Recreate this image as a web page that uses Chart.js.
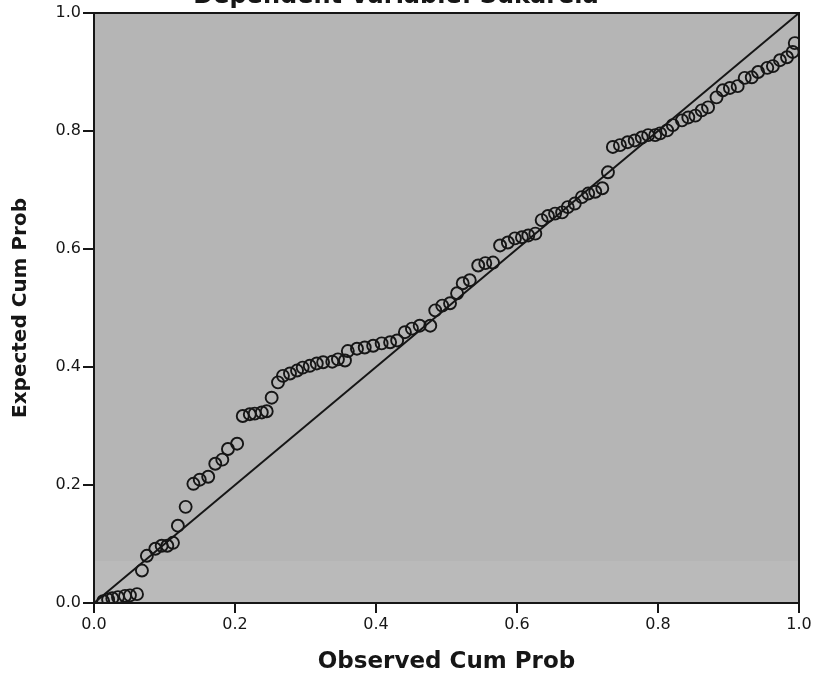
<!DOCTYPE html>
<html>
<head>
<meta charset="utf-8">
<script src="https://cdn.jsdelivr.net/npm/chart.js@4.4.1/dist/chart.umd.min.js"></script>
<style>
  html, body { margin: 0; padding: 0; background: #fff; overflow: hidden; }
  #wrap { width: 817px; height: 678px; }
</style>
</head>
<body>
<div id="wrap"><canvas id="ppChart" width="817" height="678"></canvas></div>
<script>
// Normal P-P plot of regression standardized residual
const chartTitle = 'Dependent Variable: Sukarela';
const xTitle = 'Observed Cum Prob';
const yTitle = 'Expected Cum Prob';
const tickLabels = ['0.0', '0.2', '0.4', '0.6', '0.8', '1.0'];

const observed = [
  0.013, 0.020, 0.026, 0.034, 0.044, 0.051, 0.061, 0.068, 0.075, 0.087,
  0.096, 0.104, 0.112, 0.119, 0.130, 0.141, 0.150, 0.162, 0.172, 0.182,
  0.190, 0.203, 0.211, 0.221, 0.228, 0.238, 0.245, 0.252, 0.261, 0.268,
  0.278, 0.288, 0.296, 0.306, 0.316, 0.325, 0.338, 0.346, 0.356, 0.360,
  0.373, 0.384, 0.396, 0.408, 0.420, 0.430, 0.441, 0.451, 0.462, 0.477,
  0.484, 0.494, 0.505, 0.515, 0.523, 0.533, 0.545, 0.555, 0.566, 0.576,
  0.587, 0.597, 0.607, 0.616, 0.626, 0.635, 0.644, 0.654, 0.664, 0.672,
  0.682, 0.692, 0.701, 0.711, 0.721, 0.729, 0.736, 0.746, 0.757, 0.767,
  0.777, 0.786, 0.796, 0.803, 0.813, 0.821, 0.834, 0.843, 0.853, 0.862,
  0.871, 0.883, 0.892, 0.902, 0.913, 0.923, 0.933, 0.942, 0.955, 0.963,
  0.973, 0.983, 0.991, 0.994
];
const expected = [
  0.003, 0.006, 0.008, 0.010, 0.012, 0.013, 0.015, 0.055, 0.080, 0.092,
  0.097, 0.097, 0.102, 0.131, 0.163, 0.202, 0.209, 0.214, 0.236, 0.243,
  0.261, 0.270, 0.317, 0.320, 0.321, 0.323, 0.325, 0.348, 0.374, 0.385,
  0.389, 0.394, 0.399, 0.402, 0.406, 0.408, 0.409, 0.413, 0.411, 0.427,
  0.431, 0.433, 0.436, 0.440, 0.442, 0.445, 0.459, 0.465, 0.470, 0.470,
  0.496, 0.504, 0.508, 0.525, 0.542, 0.547, 0.572, 0.576, 0.577, 0.606,
  0.611, 0.618, 0.620, 0.623, 0.626, 0.649, 0.656, 0.660, 0.662, 0.671,
  0.677, 0.688, 0.694, 0.697, 0.703, 0.730, 0.773, 0.776, 0.781, 0.784,
  0.789, 0.793, 0.793, 0.796, 0.801, 0.810, 0.818, 0.823, 0.826, 0.835,
  0.840, 0.857, 0.869, 0.873, 0.876, 0.890, 0.891, 0.900, 0.907, 0.910,
  0.920, 0.925, 0.934, 0.949
];
// reference diagonal
const lineEnds = [0, 1];

const ink = '#161616';

// grey plot area like the SPSS output
const plotBackground = {
  id: 'plotBackground',
  beforeDraw(chart) {
    const {ctx, chartArea: a} = chart;
    ctx.save();
    ctx.fillStyle = '#b5b5b5';
    ctx.fillRect(a.left, a.top, a.right - a.left, a.bottom - a.top);
    ctx.fillStyle = 'rgba(255,255,255,0.08)';
    ctx.fillRect(a.left, a.bottom - 42, a.right - a.left, 42);
    ctx.restore();
  }
};

// box round the plot and the title that the scan cut off at the top
const frameAndTitle = {
  id: 'frameAndTitle',
  afterDraw(chart) {
    const {ctx, chartArea: a} = chart;
    ctx.save();
    ctx.strokeStyle = ink;
    ctx.lineWidth = 2;
    ctx.strokeRect(a.left, a.top, a.right - a.left, a.bottom - a.top);
    ctx.fillStyle = ink;
    ctx.font = 'bold 24px "DejaVu Sans"';
    ctx.textAlign = 'center';
    ctx.textBaseline = 'alphabetic';
    ctx.fillText(chartTitle, 396, 3);
    ctx.restore();
  }
};

const ctx = document.getElementById('ppChart').getContext('2d');

new Chart(ctx, {
  type: 'scatter',
  data: {
    datasets: [
      {
        type: 'line',
        data: lineEnds.map(v => ({x: v, y: v})),
        borderColor: ink,
        borderWidth: 2,
        pointRadius: 0,
        fill: false
      },
      {
        data: observed.map((x, i) => ({x: x, y: expected[i]})),
        pointStyle: 'circle',
        pointRadius: 6,
        pointBorderWidth: 1.9,
        borderColor: ink,
        backgroundColor: 'rgba(0,0,0,0)'
      }
    ]
  },
  options: {
    responsive: false,
    animation: false,
    devicePixelRatio: 1,
    layout: { padding: { left: 0, right: 18, top: 13, bottom: 0 } },
    plugins: {
      legend: { display: false },
      tooltip: { enabled: false }
    },
    scales: {
      x: {
        type: 'linear',
        min: 0,
        max: 1,
        afterFit: s => { s.height = 75; },
        ticks: {
          stepSize: 0.2,
          padding: 2,
          color: ink,
          font: { family: 'DejaVu Sans', size: 16 },
          callback: (v, i) => tickLabels[i]
        },
        grid: { drawOnChartArea: false, drawTicks: true, tickLength: 10, color: ink, lineWidth: 2 },
        border: { display: true, color: ink, width: 2 },
        title: {
          display: true,
          text: xTitle,
          color: ink,
          font: { family: 'DejaVu Sans', size: 23, weight: 'bold' },
          padding: { top: 0, bottom: 2 }
        }
      },
      y: {
        type: 'linear',
        min: 0,
        max: 1,
        afterFit: s => { s.width = 94; },
        ticks: {
          stepSize: 0.2,
          padding: 2,
          color: ink,
          font: { family: 'DejaVu Sans', size: 16 },
          callback: (v, i) => tickLabels[i]
        },
        grid: { drawOnChartArea: false, drawTicks: true, tickLength: 11, color: ink, lineWidth: 2 },
        border: { display: true, color: ink, width: 2 },
        title: {
          display: true,
          text: yTitle,
          color: ink,
          font: { family: 'DejaVu Sans', size: 20, weight: 'bold' },
          padding: { top: 9, bottom: 0 }
        }
      }
    }
  },
  plugins: [plotBackground, frameAndTitle]
});
</script>
</body>
</html>
